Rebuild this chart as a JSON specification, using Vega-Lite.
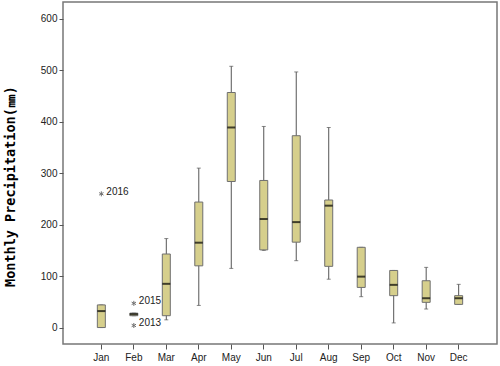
{
  "$schema": "https://vega.github.io/schema/vega-lite/v6.json",
  "width": 434,
  "height": 342,
  "autosize": {"type": "none"},
  "padding": {"left": 63, "top": 2, "right": 3, "bottom": 22},
  "background": "white",
  "config": {
    "view": {"stroke": "#777777", "strokeWidth": 1.5},
    "axis": {"grid": false, "domain": false, "labelFont": "Liberation Sans", "labelFontSize": 10, "labelColor": "#222222", "tickColor": "#555555"}
  },
  "datasets": {
    "boxes": [
      {"month": "Jan", "min": 0, "q1": 0, "median": 32, "q3": 44, "max": 44},
      {"month": "Feb", "min": 23, "q1": 23, "median": 26, "q3": 28, "max": 28},
      {"month": "Mar", "min": 15, "q1": 23, "median": 85, "q3": 143, "max": 173},
      {"month": "Apr", "min": 43, "q1": 120, "median": 165, "q3": 244, "max": 310},
      {"month": "May", "min": 115, "q1": 284, "median": 389, "q3": 457, "max": 508},
      {"month": "Jun", "min": 150, "q1": 151, "median": 211, "q3": 286, "max": 391},
      {"month": "Jul", "min": 130, "q1": 166, "median": 205, "q3": 373, "max": 497},
      {"month": "Aug", "min": 94, "q1": 119, "median": 237, "q3": 248, "max": 389},
      {"month": "Sep", "min": 60, "q1": 78, "median": 99, "q3": 156, "max": 156},
      {"month": "Oct", "min": 9, "q1": 62, "median": 83, "q3": 111, "max": 111},
      {"month": "Nov", "min": 36, "q1": 49, "median": 57, "q3": 91, "max": 117},
      {"month": "Dec", "min": 45, "q1": 45, "median": 57, "q3": 62, "max": 84}
    ],
    "outliers": [
      {"month": "Jan", "value": 260, "year": "2016"},
      {"month": "Feb", "value": 47, "year": "2015"},
      {"month": "Feb", "value": 4, "year": "2013"}
    ]
  },
  "encoding": {
    "x": {
      "field": "month", "type": "nominal",
      "sort": ["Jan","Feb","Mar","Apr","May","Jun","Jul","Aug","Sep","Oct","Nov","Dec"],
      "scale": {"type": "band", "paddingInner": 0, "paddingOuter": 0.68},
      "axis": {"title": null, "labelAngle": 0, "tickSize": 5, "labelPadding": 3}
    }
  },
  "layer": [
    {
      "data": {"name": "boxes"},
      "mark": {"type": "rule", "color": "#555555", "strokeWidth": 1},
      "encoding": {
        "y": {
          "field": "min", "type": "quantitative",
          "scale": {"domain": [-32, 633], "nice": false, "zero": false},
          "axis": {
            "values": [0, 100, 200, 300, 400, 500, 600],
            "tickSize": 4, "labelPadding": 2,
            "title": "Monthly Precipitation(㎜)",
            "titleFont": "DejaVu Sans Mono", "titleFontSize": 13.5, "titleFontWeight": "bold",
            "titleColor": "#000000", "titleX": -53, "titleY": 184, "titleBaseline": "middle"
          }
        },
        "y2": {"field": "max"}
      }
    },
    {
      "data": {"name": "boxes"},
      "mark": {"type": "tick", "color": "#555555", "size": 4, "thickness": 1},
      "encoding": {"y": {"field": "min", "type": "quantitative"}}
    },
    {
      "data": {"name": "boxes"},
      "mark": {"type": "tick", "color": "#555555", "size": 4, "thickness": 1},
      "encoding": {"y": {"field": "max", "type": "quantitative"}}
    },
    {
      "data": {"name": "boxes"},
      "mark": {"type": "bar", "width": 8, "fill": "#d6cf8c", "stroke": "#6f6f6f", "strokeWidth": 1},
      "encoding": {"y": {"field": "q1", "type": "quantitative"}, "y2": {"field": "q3"}}
    },
    {
      "data": {"name": "boxes"},
      "mark": {"type": "tick", "color": "#000000", "size": 8, "thickness": 2},
      "encoding": {"y": {"field": "median", "type": "quantitative"}}
    },
    {
      "data": {"name": "outliers"},
      "mark": {"type": "point", "shape": "M0,-1L0,1M-0.87,-0.5L0.87,0.5M-0.87,0.5L0.87,-0.5", "size": 25, "filled": false, "stroke": "#333333", "strokeWidth": 1},
      "encoding": {"y": {"field": "value", "type": "quantitative"}}
    },
    {
      "data": {"name": "outliers"},
      "mark": {"type": "text", "align": "left", "baseline": "middle", "dx": 5, "dy": -2, "font": "Liberation Sans", "fontSize": 10, "color": "#222222"},
      "encoding": {"y": {"field": "value", "type": "quantitative"}, "text": {"field": "year"}}
    }
  ]
}
